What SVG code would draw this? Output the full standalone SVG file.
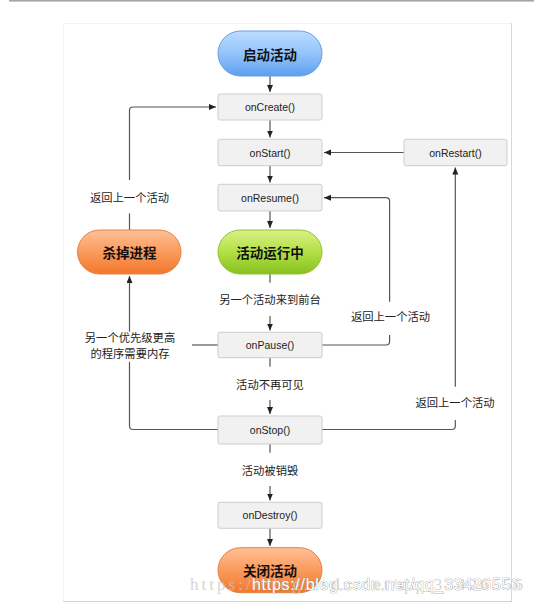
<svg xmlns="http://www.w3.org/2000/svg" width="534" height="606" viewBox="0 0 534 606">
<defs>
<linearGradient id="gBlue" x1="0" y1="0" x2="0" y2="1">
<stop offset="0" stop-color="#bcdcff"/><stop offset="0.5" stop-color="#93c4fb"/><stop offset="1" stop-color="#5e9ff0"/>
</linearGradient>
<linearGradient id="gGreen" x1="0" y1="0" x2="0" y2="1">
<stop offset="0" stop-color="#d8f184"/><stop offset="0.5" stop-color="#b3e045"/><stop offset="1" stop-color="#86c11f"/>
</linearGradient>
<linearGradient id="gOrange" x1="0" y1="0" x2="0" y2="1">
<stop offset="0" stop-color="#ffc096"/><stop offset="0.5" stop-color="#fb9a5c"/><stop offset="1" stop-color="#f3782c"/>
</linearGradient>
<marker id="arr" markerUnits="userSpaceOnUse" markerWidth="8" markerHeight="7" refX="7" refY="3" orient="auto">
<path d="M0,0 L7,3 L0,6 z" fill="#222"/>
</marker>
<style>
.box{fill:#f1f1f1;stroke:#cdcdcd;stroke-width:1}
.bt{font-family:"Liberation Sans",Arial,sans-serif;font-size:10.5px;fill:#222;text-anchor:middle;dominant-baseline:central}
.pt{font-family:"Noto Sans CJK SC","Noto Sans",sans-serif;font-size:13.5px;font-weight:bold;fill:#111;text-anchor:middle;dominant-baseline:central}
.lt{font-family:"Noto Sans CJK SC","Noto Sans",sans-serif;font-size:11.3px;fill:#222;text-anchor:middle;dominant-baseline:central}
.ln{fill:none;stroke:#555;stroke-width:1.2}
.la{fill:none;stroke:#555;stroke-width:1.2;marker-end:url(#arr)}
</style>
</defs>
<rect x="0" y="0" width="534" height="606" fill="#fff"/>
<rect x="9" y="0" width="525" height="1.6" fill="#a6a6a6"/>
<g id="frame">
<line x1="63.5" y1="23.5" x2="511.5" y2="23.5" stroke="#f3f3f3" stroke-width="1"/>
<line x1="63.5" y1="23.5" x2="63.5" y2="601" stroke="#f3f3f3" stroke-width="1"/>
<line x1="511.5" y1="23" x2="511.5" y2="601.5" stroke="#d8d8d8" stroke-width="1"/>
<line x1="63" y1="601.5" x2="512" y2="601.5" stroke="#d2d2d2" stroke-width="1"/>
</g>
<g id="connectors">
<line class="la" x1="270" y1="76" x2="270" y2="92"/>
<line class="la" x1="270" y1="120" x2="270" y2="137.5"/>
<line class="la" x1="270" y1="165.7" x2="270" y2="182.5"/>
<line class="la" x1="270" y1="211" x2="270" y2="228"/>
<line class="ln" x1="270" y1="274" x2="270" y2="282.7"/>
<line class="la" x1="270" y1="316" x2="270" y2="330.5"/>
<line class="ln" x1="270" y1="357.7" x2="270" y2="366.7"/>
<line class="la" x1="270" y1="400" x2="270" y2="414"/>
<line class="ln" x1="270" y1="444" x2="270" y2="452.7"/>
<line class="la" x1="270" y1="486" x2="270" y2="500.5"/>
<line class="la" x1="270" y1="528.3" x2="270" y2="546"/>
<path class="ln" d="M218,429.5 H133 Q129.5,429.5 129.5,426 V361.7"/>
<path class="la" d="M129.5,331.7 V276"/>
<path class="ln" d="M218,345 H192"/>
<path class="ln" d="M129.5,230 V213.3"/>
<path class="la" d="M129.5,180 V110.5 Q129.5,107 133,107 H216"/>
<path class="ln" d="M322,345 H386 Q389.6,345 389.6,341.5 V335"/>
<path class="la" d="M389.6,301.7 V201.2 Q389.6,197.7 386,197.7 H324"/>
<path class="ln" d="M322,429.5 H452 Q455.3,429.5 455.3,426 V420"/>
<path class="la" d="M455.3,386.7 V167.5"/>
<path class="la" d="M404,152.5 H324"/>
<text class="lt" x="129.5" y="197">返回上一个活动</text>
<text class="lt" x="130" y="336.7">另一个优先级更高</text>
<text class="lt" x="130" y="353.3">的程序需要内存</text>
<text class="lt" x="270" y="299">另一个活动来到前台</text>
<text class="lt" x="390.5" y="316">返回上一个活动</text>
<text class="lt" x="270" y="384">活动不再可见</text>
<text class="lt" x="455" y="401.7">返回上一个活动</text>
<text class="lt" x="270" y="470">活动被销毁</text>
</g>
<g id="start">
<rect x="218" y="31" width="104" height="45" rx="22.5" fill="url(#gBlue)" stroke="#6a9de2" stroke-width="1"/>
<text class="pt" x="270" y="53.5">启动活动</text>
</g>
<g id="onCreate">
<rect class="box" x="218" y="94" width="104" height="26" rx="2"/>
<text class="bt" x="270" y="107">onCreate()</text>
</g>
<g id="onStart">
<rect class="box" x="218" y="139.3" width="104" height="26.4" rx="2"/>
<text class="bt" x="270" y="152.5">onStart()</text>
</g>
<g id="onRestart">
<rect class="box" x="404" y="139.3" width="103" height="26.4" rx="2"/>
<text class="bt" x="455.5" y="152.5">onRestart()</text>
</g>
<g id="onResume">
<rect class="box" x="218" y="184.3" width="104" height="26.7" rx="2"/>
<text class="bt" x="270" y="197.7">onResume()</text>
</g>
<g id="kill">
<rect x="77.5" y="230" width="103.5" height="44" rx="22" fill="url(#gOrange)" stroke="#de8447" stroke-width="1"/>
<text class="pt" x="129.5" y="252">杀掉进程</text>
</g>
<g id="running">
<rect x="218" y="230" width="104" height="44" rx="22" fill="url(#gGreen)" stroke="#95c03c" stroke-width="1"/>
<text class="pt" x="270" y="252">活动运行中</text>
</g>
<g id="onPause">
<rect class="box" x="218" y="332.3" width="104" height="25.4" rx="2"/>
<text class="bt" x="270" y="345">onPause()</text>
</g>
<g id="onStop">
<rect class="box" x="218" y="416" width="104" height="28" rx="2"/>
<text class="bt" x="270" y="430">onStop()</text>
</g>
<g id="onDestroy">
<rect class="box" x="218" y="502.3" width="104" height="26" rx="2"/>
<text class="bt" x="270" y="515.3">onDestroy()</text>
</g>
<g id="end">
<rect x="218" y="547.7" width="104" height="45" rx="22.5" fill="url(#gOrange)" stroke="#de8447" stroke-width="1"/>
<text class="pt" x="270" y="569.5">关闭活动</text>
</g>
<g id="watermark">
<text x="190" y="590" font-family="'Liberation Serif',serif" font-size="17" fill="#c8c8c8" opacity="0.75" textLength="333" lengthAdjust="spacing">https://blog.csdn.net/qq_33426556</text>
<text x="252" y="589.5" font-family="'Liberation Sans',Arial,sans-serif" font-size="16" fill="#ffffff" stroke="#8a8a8a" stroke-width="0.6" paint-order="stroke" textLength="268" lengthAdjust="spacing">https://blog.csdn.net/qq_33426556</text>
</g>
</svg>
